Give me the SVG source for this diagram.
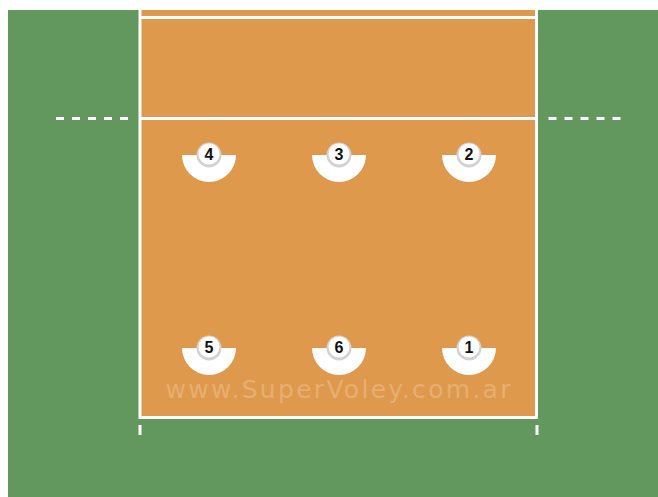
<svg xmlns="http://www.w3.org/2000/svg" width="658" height="497" viewBox="0 0 658 497">
<style>
.line{stroke:#fff;stroke-width:3;fill:none}
.dash{stroke:#fff;stroke-width:3;stroke-dasharray:8 8;fill:none}
.disc{fill:#fff}
.ring{fill:#d2d2d2}
.badge{fill:#fff}
.num{font-family:"Liberation Sans",Arial,sans-serif;font-size:16px;font-weight:bold;fill:#111;text-anchor:middle}
.wm{font-family:"DejaVu Sans","Liberation Sans",sans-serif;font-size:25px;fill:#fff;fill-opacity:0.22;text-anchor:middle}
</style>
<rect width="658" height="497" fill="#fff"/>
<g id="court">
<rect x="8" y="10" width="650" height="487" fill="#62985E"/>
<rect x="140" y="10" width="396.5" height="407.5" fill="#DF994D"/>
<path class="line" d="M140,10V417.5H536.5V10"/>
<line class="line" x1="140" y1="17.5" x2="536.5" y2="17.5"/>
<line class="line" x1="140" y1="118.5" x2="536.5" y2="118.5"/>
<line class="dash" x1="56" y1="118.5" x2="130" y2="118.5"/>
<line class="dash" x1="548.5" y1="118.5" x2="622" y2="118.5"/>
<line class="line" x1="140" y1="425" x2="140" y2="435"/>
<line class="line" x1="537" y1="425" x2="537" y2="435"/>
<text class="wm" x="338" y="398" textLength="345">www.SuperVoley.com.ar</text>
</g>
<g id="connectors"/>
<g id="p4"><path class="disc" d="M182,155A27,27 0 0 0 236,155Z"/><circle class="ring" cx="209" cy="155" r="12.5"/><circle class="badge" cx="209" cy="154" r="10.5"/><text class="num" x="209" y="160">4</text></g>
<g id="p3"><path class="disc" d="M312,155A27,27 0 0 0 366,155Z"/><circle class="ring" cx="339" cy="155" r="12.5"/><circle class="badge" cx="339" cy="154" r="10.5"/><text class="num" x="339" y="160">3</text></g>
<g id="p2"><path class="disc" d="M442,155A27,27 0 0 0 496,155Z"/><circle class="ring" cx="469" cy="155" r="12.5"/><circle class="badge" cx="469" cy="154" r="10.5"/><text class="num" x="469" y="160">2</text></g>
<g id="p5"><path class="disc" d="M182,348A27,27 0 0 0 236,348Z"/><circle class="ring" cx="209" cy="348" r="12.5"/><circle class="badge" cx="209" cy="347" r="10.5"/><text class="num" x="209" y="353">5</text></g>
<g id="p6"><path class="disc" d="M312,348A27,27 0 0 0 366,348Z"/><circle class="ring" cx="339" cy="348" r="12.5"/><circle class="badge" cx="339" cy="347" r="10.5"/><text class="num" x="339" y="353">6</text></g>
<g id="p1"><path class="disc" d="M442,348A27,27 0 0 0 496,348Z"/><circle class="ring" cx="469" cy="348" r="12.5"/><circle class="badge" cx="469" cy="347" r="10.5"/><text class="num" x="469" y="353">1</text></g>
</svg>
